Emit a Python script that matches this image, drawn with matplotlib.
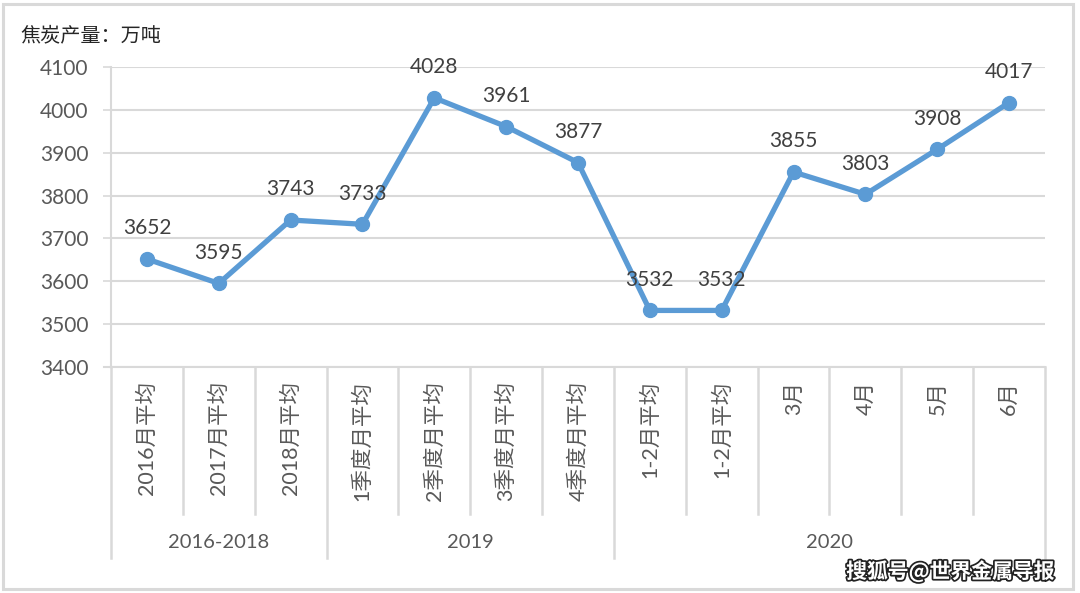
import matplotlib
matplotlib.use("Agg")
import matplotlib.pyplot as plt
import matplotlib.patheffects as pe
from matplotlib.transforms import blended_transform_factory
from matplotlib.patches import Rectangle

plt.rcParams['font.family'] = ['Lato', 'Noto Sans CJK SC', 'DejaVu Sans']

categories = ['2016月平均', '2017月平均', '2018月平均', '1季度月平均', '2季度月平均',
              '3季度月平均', '4季度月平均', '1-2月平均', '1-2月平均', '3月', '4月', '5月', '6月']
values = [3652, 3595, 3743, 3733, 4028, 3961, 3877, 3532, 3532, 3855, 3803, 3908, 4017]
groups = ['2016-2018', '2019', '2020']
group_sizes = [3, 4, 6]
y_ticks = [3400, 3500, 3600, 3700, 3800, 3900, 4000, 4100]

W, H = 1080, 593
fig = plt.figure(figsize=(W / 100, H / 100), dpi=100)
fig.patch.set_facecolor('white')

# outer frame
fig.patches.append(Rectangle((2.5 / W, 4 / H), (1073 - 2.5) / W, (589 - 4) / H,
                             transform=fig.transFigure, fill=False,
                             edgecolor='#D9D9D9', linewidth=2.2))

left, right, top, bottom = 111, 1045, 67, 367
ax = fig.add_axes([left / W, 1 - bottom / H, (right - left) / W, (bottom - top) / H])
ax_h = bottom - top

x = list(range(len(values)))
ax.plot(x, values, color='#5B9BD5', linewidth=3.8, marker='o', markersize=10,
        markerfacecolor='#5B9BD5', markeredgecolor='#5B9BD5', zorder=3, clip_on=False)

for xi, v in zip(x, values):
    ax.annotate(f'{v}', (xi, v), xytext=(0, 22), textcoords='offset points',
                ha='center', va='center', fontsize=15, color='#404040', zorder=4)

ax.set_xlim(-0.5, len(values) - 0.5)
ax.set_ylim(3400, 4100)
ax.set_yticks(y_ticks)
ax.set_yticklabels([str(t) for t in y_ticks], fontsize=15, color='#595959')
ax.tick_params(axis='y', length=6, width=1.2, color='#D9D9D9', pad=10, direction='out')
ax.set_xticks([])
ax.grid(axis='y', color='#D9D9D9', linewidth=1.5)
ax.set_axisbelow(True)
for s in ['top', 'right']:
    ax.spines[s].set_visible(False)
ax.spines['left'].set_color('#D9D9D9')
ax.spines['left'].set_linewidth(1.5)
ax.spines['bottom'].set_color('#D9D9D9')
ax.spines['bottom'].set_linewidth(1.5)

trans = blended_transform_factory(ax.transData, ax.transAxes)

# category labels
for xi, c in zip(x, categories):
    ax.text(xi, -14 / ax_h, c, rotation=90, ha='center', va='top', transform=trans,
            fontsize=15.5, color='#595959', rotation_mode='default')

# category separators
group_bounds = [-0.5]
for g in group_sizes:
    group_bounds.append(group_bounds[-1] + g)
for b in [i - 0.5 for i in range(len(values) + 1)]:
    ybot = -191 / ax_h if b in group_bounds else -147 / ax_h
    ax.plot([b, b], [0, ybot], transform=trans, color='#D9D9D9', linewidth=1.8, clip_on=False)
# axis line extension to the left
ax.plot([-7 / ((right - left) / 13) - 0.5, -0.5], [0, 0], transform=trans,
        color='#D9D9D9', linewidth=1.5, clip_on=False)

# group labels
for g, a, b in zip(groups, group_bounds[:-1], group_bounds[1:]):
    ax.text((a + b) / 2, -(543 - bottom) / ax_h, g, ha='center', va='center',
            transform=trans, fontsize=14.5, color='#595959')

# title
fig.text(20 / W, 1 - 36 / H, '焦炭产量：万吨', fontsize=14.5, color='#262626',
         ha='left', va='center', family=['Noto Sans CJK SC', 'DejaVu Sans'])

# watermark
fig.text(1055 / W, 1 - 571 / H, '搜狐号@世界金属导报', fontsize=15, color='white',
         ha='right', va='center', fontweight='bold',
         family=['Noto Sans CJK SC', 'DejaVu Sans'],
         path_effects=[pe.withStroke(linewidth=2.5, foreground='#222222')])

fig.savefig('out.png', dpi=100, facecolor='white')
